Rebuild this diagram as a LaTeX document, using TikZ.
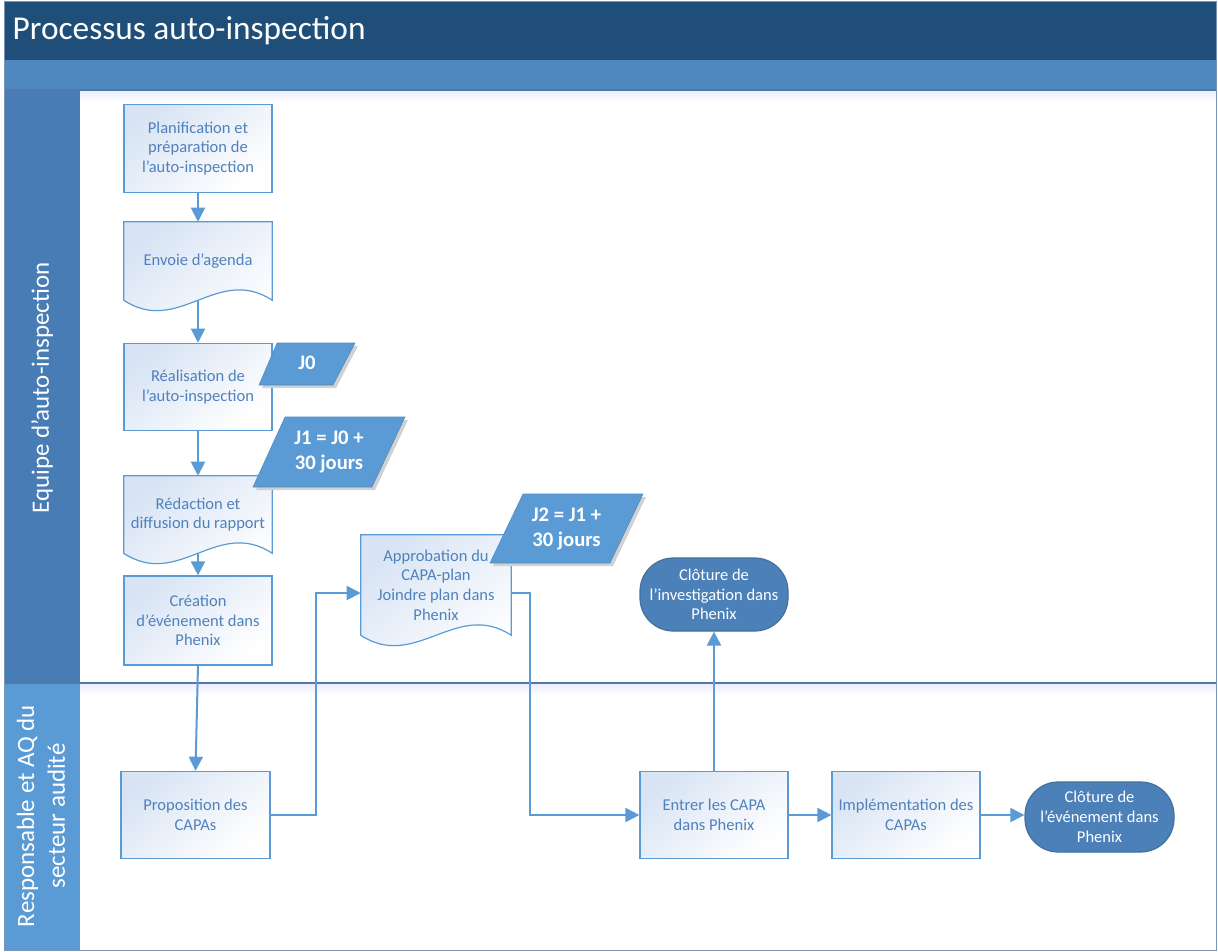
\documentclass[tikz,border=0pt]{standalone}
\usepackage{fontspec}
\setmainfont{Carlito}
\usetikzlibrary{arrows.meta,calc}
\definecolor{titlebg}{RGB}{31,78,121}
\definecolor{bandbg}{RGB}{78,136,191}
\definecolor{lanebgone}{RGB}{72,124,180}
\definecolor{lanebgtwo}{RGB}{91,155,213}
\definecolor{lineblue}{RGB}{91,155,213}
\definecolor{boxborder}{RGB}{91,155,213}
\definecolor{boxtop}{RGB}{216,228,244}
\definecolor{textblue}{RGB}{79,129,189}
\definecolor{termfill}{RGB}{76,128,185}
\definecolor{termdraw}{RGB}{65,113,156}
\definecolor{sepline}{RGB}{84,120,165}
\definecolor{frameblue}{RGB}{120,150,185}
\definecolor{paralfill}{RGB}{91,155,213}
\pgfdeclarelayer{lanes}
\pgfdeclarelayer{shapes}
\pgfsetlayers{lanes,shapes,main}
\tikzset{
  arr/.style={draw=lineblue, line width=1.5pt, -{Triangle[width=10.5pt,length=10.5pt]}},
  boxtext/.style={text=textblue, font=\fontsize{12.4}{14.8}\selectfont, align=center},
  procbox/.style={boxtext, rectangle, draw=boxborder, line width=0.9pt,
    top color=boxtop, bottom color=white, shading angle=40,
    minimum width=111pt, minimum height=65.5pt, inner sep=1pt},
  docnode/.style={boxtext, rectangle, draw=none, minimum width=111pt, inner sep=1pt},
  docshape/.style={draw=boxborder, line width=0.9pt, top color=boxtop, bottom color=white, shading angle=40},
  terminal/.style={rectangle, rounded corners=25pt, draw=termdraw, line width=0.9pt, fill=termfill,
    text=white, font=\fontsize{12.4}{14.8}\selectfont, align=center, minimum width=111pt, inner sep=1pt},
  paral/.style={fill=paralfill, draw=paralfill!90!black, line width=0.4pt},
  paralshadow/.style={fill=black!18},
  paraltext/.style={text=white, font=\fontsize{15.5}{19}\selectfont\bfseries, align=center},
  lanetext/.style={rotate=90, text=white, font=\fontsize{18.7}{23}\selectfont, align=center},
}
\begin{document}
\begin{tikzpicture}[x=0.75pt,y=-0.75pt]
\useasboundingbox (0,0) rectangle (1218,951);
\begin{pgfonlayer}{lanes}
\fill[white] (0,0) rectangle (1218,951);
\fill[titlebg] (4,1) rectangle (1216,60);
\fill[bandbg] (4,60) rectangle (1216,90);
\shade[top color=blue!8, bottom color=white] (80,90) rectangle (1216,102);
\shade[top color=blue!8, bottom color=white] (80,683) rectangle (1216,695);
\fill[lanebgone] (4,90) rectangle (80,683);
\fill[lanebgtwo] (4,683) rectangle (80,950);
\draw[sepline, line width=0.8pt] (4,90) -- (1216,90);
\draw[sepline, line width=1.2pt] (4,683) -- (1216,683);
\draw[frameblue, line width=0.6pt] (4,1) rectangle (1216,950);
\end{pgfonlayer}

\node[anchor=west, text=white, font=\fontsize{25}{30}\selectfont] (title) at (8,31) {Processus auto-inspection};
\node[lanetext] (laneone) at (42,388) {Equipe d’auto-inspection};
\node[lanetext] (lanetwo) at (41,816) {Responsable et AQ du\\secteur audité};

% process nodes
\node[procbox] (plan) at (198,148.5) {Planification et\\préparation de\\l’auto-inspection};
\node[docnode, minimum height=58.5pt] (envoi) at (198,261) {Envoie d’agenda};
\node[procbox] (real) at (198,387) {Réalisation de\\l’auto-inspection};
\node[docnode, minimum height=57.75pt] (redac) at (198,514.5) {Rédaction et\\diffusion du rapport};
\node[procbox, minimum height=66.75pt] (crea) at (198,620.5) {Création\\d’événement dans\\Phenix};
\node[docnode, minimum width=112.5pt, minimum height=75pt] (appr) at (436,585) {Approbation du\\CAPA-plan\\Joindre plan dans\\Phenix};
\node[terminal, minimum height=54.75pt] (inv) at (714,594.5) {Clôture de\\l’investigation dans\\Phenix};
\node[procbox, minimum width=111.75pt] (prop) at (195.5,815) {Proposition des\\CAPAs};
\node[procbox] (entrer) at (714,815) {Entrer les CAPA\\dans Phenix};
\node[procbox] (impl) at (906,815) {Implémentation des\\CAPAs};
\node[terminal, minimum width=111.75pt, minimum height=52.5pt] (evt) at (1099.5,817) {Clôture de\\l’événement dans\\Phenix};

% document shapes
\begin{pgfonlayer}{shapes}
\foreach \d in {envoi,redac,appr}{
  \path[docshape] (\d.north west) -- (\d.north east) -- (\d.south east)
    .. controls +(-55,-36) and +(55,36) .. (\d.south west) -- cycle;
}
\end{pgfonlayer}

% connectors
\draw[arr] (plan) -- (envoi);
\draw[arr] (envoi.south) -- (real.north);
\draw[arr] (real) -- (redac);
\draw[arr] (redac.south) -- (crea.north);
\draw[arr] (crea.south) -- (prop.north);
\draw[arr] (prop.east) -- ++(45,0) |- ([yshift=-6pt]appr.west);
\draw[arr] ([yshift=-6pt]appr.east) -- ++(19,0) |- (entrer.west);
\draw[arr] (entrer.north) -- (inv.south);
\draw[arr] (entrer) -- (impl);
\draw[arr] (impl.east) -- (impl.east -| evt.west);

% parallelograms
\fill[paralshadow] (280,346) -- (358,346) -- (336,388) -- (262,388) -- cycle;
\path[paral] (277,343) -- (355,343) -- (333,385) -- (259,385) -- cycle;
\node[paraltext] (jzero) at (307,363) {J0};
\fill[paralshadow] (288,420) -- (408,420) -- (375,490) -- (256,490) -- cycle;
\path[paral] (285,417) -- (405,417) -- (372,487) -- (253,487) -- cycle;
\node[paraltext] (jone) at (329,452) {J1 = J0 +\\30 jours};
\fill[paralshadow] (526,497) -- (646,497) -- (613,566) -- (493,566) -- cycle;
\path[paral] (523,494) -- (643,494) -- (610,563) -- (490,563) -- cycle;
\node[paraltext] (jtwo) at (566.5,529) {J2 = J1 +\\30 jours};
\end{tikzpicture}
\end{document}
